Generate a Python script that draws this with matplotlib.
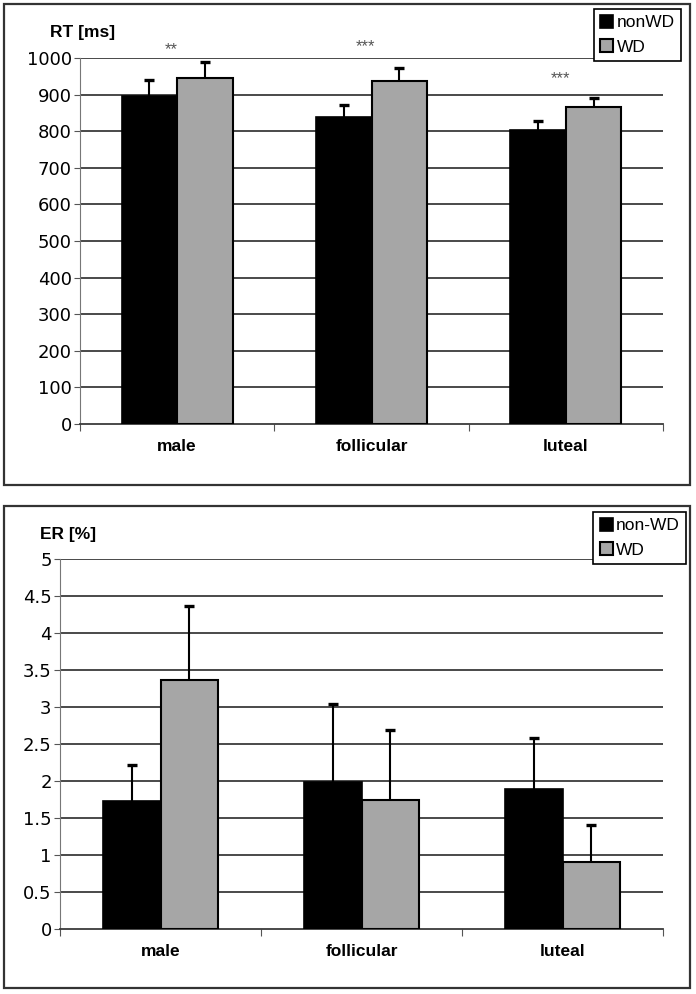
import numpy as np
import matplotlib
matplotlib.use("Agg")
import matplotlib.pyplot as plt
from matplotlib.patches import Rectangle

plt.rcParams['font.family'] = ['Liberation Sans', 'DejaVu Sans']

# data
categories = ['male', 'follicular', 'luteal']

rt_nonwd = [896, 840, 803]
rt_nonwd_err = [44, 31, 26]
rt_wd = [944, 938, 867]
rt_wd_err = [45, 34, 25]
rt_stars = ['**', '***', '***']
rt_star_y = [1022, 1031, 943]

er_nonwd = [1.73, 1.98, 1.89]
er_nonwd_err = [0.49, 1.06, 0.69]
er_wd = [3.37, 1.74, 0.90]
er_wd_err = [0.99, 0.95, 0.51]

BLACK = '#000000'
GRAY = '#a6a6a6'

W, H = 696, 994
fig = plt.figure(figsize=(W / 100, H / 100), dpi=100)


def fx(px):
    return px / W


def fy(py):
    return 1 - py / H


# panel frames
for y0, y1 in [(4, 485), (506, 988)]:
    fig.patches.append(Rectangle((fx(4), fy(y1)), fx(690) - fx(4), fy(y0) - fy(y1),
                                 transform=fig.transFigure, fill=False,
                                 edgecolor='#333333', lw=1.6))


def upper_err(ax, xs, ys, errs):
    # only the upper half of the error bar, cap on top only
    _, caps, _ = ax.errorbar(xs, ys, yerr=[np.zeros(len(xs)), errs], fmt='none',
                             ecolor='black', elinewidth=1.5, capthick=2.4,
                             capsize=3.5, zorder=4)
    caps[0].set_visible(False)


def panel(ax, nonwd, nonwd_err, wd, wd_err, ymax, ystep, labels, legend_box):
    x = np.arange(len(categories))
    w = 1 / 3.5
    ax.bar(x - w / 2, nonwd, w, color=BLACK, edgecolor='black', lw=1.2,
           zorder=3, label=labels[0])
    ax.bar(x + w / 2, wd, w, color=GRAY, edgecolor='black', lw=1.5,
           zorder=3, label=labels[1])
    upper_err(ax, x - w / 2, nonwd, nonwd_err)
    upper_err(ax, x + w / 2, wd, wd_err)
    ax.set_xlim(-0.5, len(x) - 0.5)
    ax.set_ylim(0, ymax)
    ticks = np.arange(0, ymax + ystep / 2, ystep)
    ax.set_yticks(ticks)
    ax.set_yticklabels([f'{t:g}' for t in ticks], fontsize=13, family='DejaVu Sans')
    for t in ticks[1:]:
        ax.axhline(t, color='#3a3a3a', lw=1.3, zorder=1)
    ax.set_xticks(x)
    ax.set_xticklabels(categories, fontsize=12.5, fontweight='bold')
    ax.set_xticks(np.arange(-0.5, len(x)), minor=True)
    ax.tick_params(axis='x', which='major', length=0, pad=11)
    ax.tick_params(axis='x', which='minor', length=5, width=0.8, color='#555555', direction='out')
    ax.tick_params(axis='y', length=4, width=0.8, color='#555555', pad=2)
    for s in ['top', 'right']:
        ax.spines[s].set_visible(False)
    ax.spines['left'].set_color('#777777')
    ax.spines['left'].set_linewidth(0.8)
    ax.spines['bottom'].set_color('#3a3a3a')
    ax.spines['bottom'].set_linewidth(1.3)
    lx1, ly0 = legend_box
    leg = ax.legend(loc='upper right', bbox_to_anchor=(fx(lx1), fy(ly0)),
                    bbox_transform=fig.transFigure, fontsize=12.5, fancybox=False,
                    framealpha=1, edgecolor='black', handlelength=0.75, handleheight=0.75,
                    handletextpad=0.2, borderpad=0.35, labelspacing=0.5, borderaxespad=0)
    leg.get_frame().set_linewidth(1.2)
    leg.set_zorder(10)
    return x


# top panel: reaction times
ax1 = fig.add_axes([fx(80), fy(424), fx(663) - fx(80), fy(58) - fy(424)])
x = panel(ax1, rt_nonwd, rt_nonwd_err, rt_wd, rt_wd_err, 1000, 100,
          ['nonWD', 'WD'], (681, 9))
for i, s in enumerate(rt_stars):
    ax1.text(x[i] - 0.03, rt_star_y[i], s, ha='center', va='center', fontsize=12,
             color='#555555', clip_on=False)
fig.text(fx(50), fy(33), 'RT [ms]', fontsize=12.5, fontweight='bold', va='center')

# bottom panel: error rates
ax2 = fig.add_axes([fx(60), fy(929), fx(663) - fx(60), fy(559) - fy(929)])
panel(ax2, er_nonwd, er_nonwd_err, er_wd, er_wd_err, 5, 0.5,
      ['non-WD', 'WD'], (686, 512))
fig.text(fx(40), fy(534), 'ER [%]', fontsize=12.5, fontweight='bold', va='center')

fig.savefig('out.png', dpi=100)
